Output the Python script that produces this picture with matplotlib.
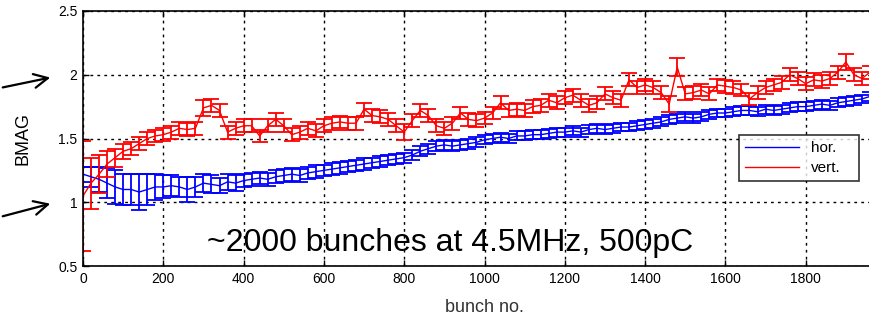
import numpy as np
import matplotlib
matplotlib.use("Agg")
import matplotlib.pyplot as plt
from matplotlib.lines import Line2D

bunch = list(range(0, 1961, 20))

hor_val = [1.22, 1.20, 1.18, 1.15, 1.12, 1.10, 1.10, 1.08, 1.10, 1.12,
           1.12, 1.13, 1.12, 1.10, 1.12, 1.15, 1.14, 1.13, 1.16, 1.15,
           1.17, 1.18, 1.19, 1.18, 1.20, 1.21, 1.22, 1.21, 1.23, 1.24,
           1.25, 1.26, 1.27, 1.28, 1.29, 1.30, 1.31, 1.32, 1.33, 1.34,
           1.35, 1.37, 1.40, 1.42, 1.44, 1.45, 1.44, 1.45, 1.46, 1.47,
           1.49, 1.50, 1.51, 1.50, 1.52, 1.52, 1.53, 1.53, 1.54, 1.55,
           1.55, 1.56, 1.55, 1.57, 1.58, 1.57, 1.58, 1.59, 1.59, 1.60,
           1.61, 1.62, 1.63, 1.65, 1.66, 1.67, 1.66, 1.67, 1.69, 1.70,
           1.70, 1.71, 1.72, 1.72, 1.71, 1.73, 1.72, 1.73, 1.74, 1.75,
           1.75, 1.76, 1.77, 1.76, 1.78, 1.79, 1.80, 1.81, 1.83]
hor_err = [0.06, 0.08, 0.10, 0.12, 0.13, 0.12, 0.12, 0.14, 0.12, 0.10,
           0.09, 0.08, 0.08, 0.10, 0.08, 0.07, 0.07, 0.06, 0.06, 0.06,
           0.05, 0.05, 0.05, 0.05, 0.05, 0.05, 0.05, 0.05, 0.05, 0.05,
           0.045, 0.045, 0.045, 0.045, 0.045, 0.045, 0.04, 0.04, 0.04, 0.04,
           0.04, 0.04, 0.04, 0.04, 0.04, 0.04, 0.04, 0.04, 0.04, 0.04,
           0.035, 0.035, 0.035, 0.035, 0.035, 0.035, 0.035, 0.035, 0.035, 0.035,
           0.035, 0.035, 0.035, 0.035, 0.035, 0.035, 0.035, 0.035, 0.035, 0.035,
           0.035, 0.035, 0.035, 0.035, 0.035, 0.035, 0.035, 0.035, 0.035, 0.035,
           0.035, 0.035, 0.035, 0.035, 0.035, 0.035, 0.035, 0.035, 0.035, 0.035,
           0.035, 0.035, 0.035, 0.035, 0.035, 0.035, 0.035, 0.035, 0.035]

vert_val = [1.05, 1.15, 1.22, 1.30, 1.35, 1.40, 1.42, 1.46, 1.50, 1.52,
            1.53, 1.55, 1.58, 1.57, 1.58, 1.74, 1.76, 1.72, 1.55, 1.58,
            1.60, 1.60, 1.52, 1.60, 1.65, 1.60, 1.53, 1.55, 1.58, 1.56,
            1.60, 1.62, 1.63, 1.62, 1.62, 1.73, 1.68, 1.67, 1.65, 1.60,
            1.55, 1.64, 1.72, 1.68, 1.60, 1.58, 1.62, 1.70, 1.65, 1.64,
            1.66, 1.70, 1.78, 1.72, 1.73, 1.72, 1.75, 1.76, 1.80, 1.78,
            1.82, 1.84, 1.80, 1.76, 1.78, 1.85, 1.82, 1.80, 1.96, 1.90,
            1.92, 1.90, 1.86, 1.77, 2.06, 1.85, 1.86, 1.88, 1.85, 1.92,
            1.91, 1.90, 1.88, 1.81, 1.86, 1.90, 1.92, 1.94, 2.00, 1.97,
            1.93, 1.96, 1.95, 1.97, 2.02, 2.10, 2.00, 1.97, 2.02]
vert_err = [0.43, 0.20, 0.15, 0.10, 0.07, 0.06, 0.05, 0.05, 0.05, 0.05,
            0.05, 0.05, 0.05, 0.05, 0.05, 0.06, 0.05, 0.05, 0.05, 0.05,
            0.05, 0.05, 0.05, 0.05, 0.05, 0.05, 0.05, 0.05, 0.05, 0.05,
            0.05, 0.05, 0.05, 0.05, 0.05, 0.05, 0.05, 0.05, 0.05, 0.05,
            0.06, 0.05, 0.05, 0.05, 0.05, 0.05, 0.05, 0.05, 0.05, 0.05,
            0.05, 0.05, 0.05, 0.05, 0.05, 0.05, 0.05, 0.05, 0.05, 0.05,
            0.05, 0.05, 0.05, 0.05, 0.05, 0.05, 0.05, 0.05, 0.05, 0.05,
            0.05, 0.05, 0.05, 0.06, 0.07, 0.05, 0.05, 0.05, 0.05, 0.05,
            0.05, 0.05, 0.05, 0.05, 0.05, 0.05, 0.05, 0.05, 0.05, 0.05,
            0.05, 0.05, 0.05, 0.05, 0.05, 0.06, 0.05, 0.05, 0.05]

xticks = [0, 200, 400, 600, 800, 1000, 1200, 1400, 1600, 1800]
yticks = [0.5, 1, 1.5, 2, 2.5]
ytick_labels = ["0.5", "1", "1.5", "2", "2.5"]

plt.rcParams['font.family'] = ['Liberation Sans', 'DejaVu Sans']

fig = plt.figure(figsize=(8.69, 3.27), dpi=100)
ax = fig.add_axes([83/869, 61/327, 803/869, 255/327])

ax.errorbar(bunch, hor_val, yerr=hor_err, color='#0000ff', lw=1.0,
            elinewidth=1.3, capsize=6, capthick=1.3, label='hor.')
ax.errorbar(bunch, vert_val, yerr=vert_err, color='#ff0000', lw=1.0,
            elinewidth=1.3, capsize=6, capthick=1.3, label='vert.')

ax.set_xlim(0, 2000)
ax.set_ylim(0.5, 2.5)
ax.set_xticks(xticks)
ax.set_yticks(yticks)
ax.set_yticklabels(ytick_labels)
ax.tick_params(direction='in', length=4, width=1, labelsize=10, top=True, right=True, pad=4)
ax.grid(True, color='black', linestyle=(0, (2, 3)), linewidth=1.0)
for s in ax.spines.values():
    s.set_linewidth(1.2)
    s.set_color('black')

ax.set_ylabel('BMAG', fontsize=13, labelpad=19)
ax.set_xlabel('bunch no.', fontsize=13, color='#333333', labelpad=10)

handles = [Line2D([], [], color='#0000ff', lw=1.0), Line2D([], [], color='#ff0000', lw=1.0)]
leg = fig.legend(handles, ['hor.', 'vert.'], loc='upper left',
                 bbox_to_anchor=(739/869, 1 - 194/327, 120/869, 59/327),
                 mode='expand', fontsize=11, frameon=True, fancybox=False,
                 handlelength=3.5, borderaxespad=0, labelspacing=0.4, borderpad=0.4)
leg.get_frame().set_edgecolor('black')
leg.get_frame().set_linewidth(1.2)

fig.text(207/869, 1 - 243/327, '~2000 bunches at 4.5MHz, 500pC', fontsize=23,
         ha='left', va='center', color='black')

for (x0, y0, x1, y1) in [(0, 88, 53, 77), (0, 217, 53, 203)]:
    fig.add_artist(matplotlib.patches.FancyArrowPatch(
        (x0/869, 1 - y0/327), (x1/869, 1 - y1/327), transform=fig.transFigure,
        arrowstyle='->,head_length=10,head_width=5', color='black', lw=1.6,
        mutation_scale=1))

fig.savefig('out.png', dpi=100)
